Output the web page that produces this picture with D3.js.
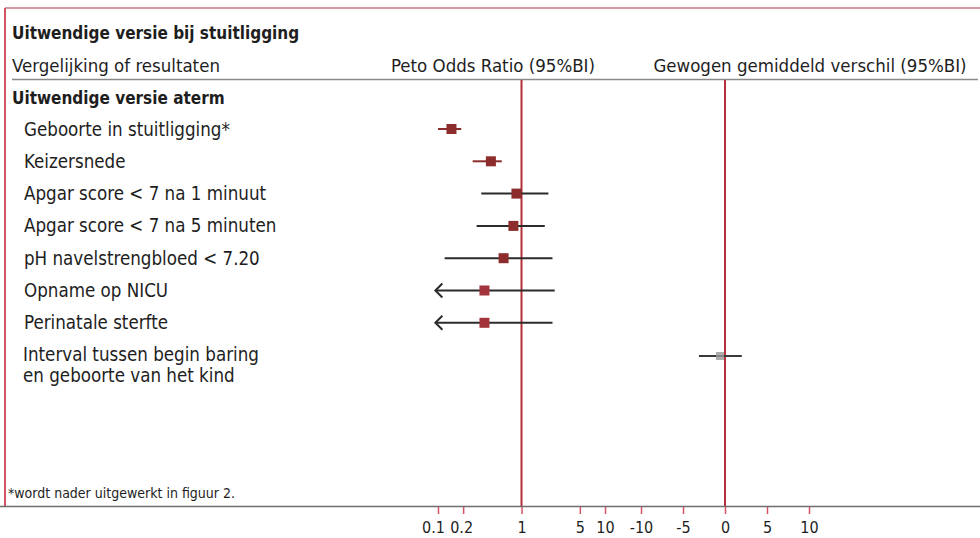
<!DOCTYPE html>
<html>
<head>
<meta charset="utf-8">
<script src="https://cdn.jsdelivr.net/npm/d3@7"></script>
<style>
  body { margin: 0; background: #fff; }
  svg text { font-family: "Liberation Sans Narrow", "DejaVu Sans Condensed", sans-serif; fill: #1e1e1e; }
</style>
</head>
<body>
<div id="chart"></div>
<script>
// -- DATA -- //
const outcomes = new Array(
    "Geboorte in stuitligging*",
    "Keizersnede",
    "Apgar score < 7 na 1 minuut",
    "Apgar score < 7 na 5 minuten",
    "pH navelstrengbloed < 7.20",
    "Opname op NICU",
    "Perinatale sterfte"
);
// peto odds ratio with 95% BI (lower below 0.1 is drawn as an arrow)
const orEstimate = [0.145, 0.43, 0.87, 0.80, 0.61, 0.36, 0.36];
const orLower = [0.10, 0.26, 0.33, 0.29, 0.12, 0.02, 0.02];
const orUpper = [0.19, 0.58, 2.1, 1.9, 2.35, 2.5, 2.35];

// weighted mean difference row
const wmdOutcome = ["Interval tussen begin baring", "en geboorte van het kind"];
const wmdEstimate = [-0.6];
const wmdLower = [-3.1];
const wmdUpper = [2.0];

const orTicks = [0.1, 0.2, 1, 5, 10];
const orTickLabels = ["0.1", "0.2", "1", "5", "10"];
const wmdTicks = [-10, -5, 0, 5, 10];

var width = 980;
var height = 538;

var svg = d3.select("#chart")
    .append("svg")
    .attr("width", width)
    .attr("height", height);

// -- SCALES -- //
var xOr = d3.scaleLog().domain([0.1, 10]).range([438, 605]);
var xWmd = d3.scaleLinear().domain([-10, 10]).range([641, 809]);
var orMin = 0.093; // arrows stop here

var rowTop = 129;
var rowStep = 32.3;
var y = (i) => rowTop + i * rowStep;

var darkRed = "#8c2c2c";
var lineRed = "#b3303b";
var frameRed = "#d35464";

// -- FRAME -- //
svg.append("line")
    .attr("x1", 5).attr("x2", 980).attr("y1", 8).attr("y2", 8)
    .attr("stroke", "#c77a86").attr("stroke-width", 1.5);
svg.append("line")
    .attr("x1", 5).attr("x2", 5).attr("y1", 8).attr("y2", 506)
    .attr("stroke", frameRed).attr("stroke-width", 2);
svg.append("line")
    .attr("x1", 12).attr("x2", 978).attr("y1", 79.5).attr("y2", 79.5)
    .attr("stroke", "#8a8a8a").attr("stroke-width", 1.5);

// reference lines
svg.append("line")
    .attr("x1", xOr(1)).attr("x2", xOr(1)).attr("y1", 80).attr("y2", 506)
    .attr("stroke", lineRed).attr("stroke-width", 2);
svg.append("line")
    .attr("x1", xWmd(0)).attr("x2", xWmd(0)).attr("y1", 80).attr("y2", 506)
    .attr("stroke", lineRed).attr("stroke-width", 2);

// -- HEADINGS -- //
svg.append("text")
    .attr("x", 12).attr("y", 39)
    .style("font-size", "17px").style("font-weight", "bold")
    .text("Uitwendige versie bij stuitligging");
svg.append("text")
    .attr("x", 12).attr("y", 72)
    .style("font-size", "18.5px")
    .text("Vergelijking of resultaten");
svg.append("text")
    .attr("x", 493).attr("y", 72)
    .attr("text-anchor", "middle")
    .style("font-size", "18.5px")
    .text("Peto Odds Ratio (95%BI)");
svg.append("text")
    .attr("x", 810).attr("y", 72)
    .attr("text-anchor", "middle")
    .style("font-size", "18.5px")
    .text("Gewogen gemiddeld verschil (95%BI)");
svg.append("text")
    .attr("x", 12).attr("y", 104)
    .style("font-size", "17px").style("font-weight", "bold")
    .text("Uitwendige versie aterm");

// -- ROW LABELS -- //
svg.selectAll("text.row")
    .data(outcomes)
    .enter()
    .append("text")
    .attr("class", "row")
    .attr("x", 24)
    .attr("y", (d, i) => y(i) + 6.5)
    .style("font-size", "18.6px")
    .text((d) => d);

svg.selectAll("text.wmdrow")
    .data(wmdOutcome)
    .enter()
    .append("text")
    .attr("class", "wmdrow")
    .attr("x", 23)
    .attr("y", (d, i) => 361 + i * 21)
    .style("font-size", "18.6px")
    .text((d) => d);

// -- PETO OR ROWS -- //
var orRows = svg.selectAll("g.or")
    .data(outcomes)
    .enter()
    .append("g")
    .attr("class", "or");

orRows.append("line")
    .attr("x1", (d, i) => xOr(Math.max(orLower[i], orMin)))
    .attr("x2", (d, i) => xOr(orUpper[i]))
    .attr("y1", (d, i) => y(i))
    .attr("y2", (d, i) => y(i))
    .attr("stroke", (d, i) => i < 2 ? darkRed : "#2b2b2b")
    .attr("stroke-width", 2);

// open arrow heads for truncated intervals
orRows.filter((d, i) => orLower[i] < orMin)
    .append("path")
    .attr("d", (d) => {
        let i = outcomes.indexOf(d);
        let x0 = xOr(orMin), y0 = y(i);
        return "M" + (x0 + 7) + "," + (y0 - 7) + "L" + x0 + "," + y0 + "L" + (x0 + 7) + "," + (y0 + 7);
    })
    .attr("fill", "none")
    .attr("stroke", "#2b2b2b")
    .attr("stroke-width", 2);

orRows.append("rect")
    .attr("x", (d, i) => xOr(orEstimate[i]) - 5)
    .attr("y", (d, i) => y(i) - 5)
    .attr("width", 10)
    .attr("height", 10)
    .attr("fill", (d, i) => i < 5 ? darkRed : "#a3343c");

// -- WMD ROW -- //
svg.selectAll("g.wmd")
    .data(wmdEstimate)
    .enter()
    .append("g")
    .attr("class", "wmd")
    .each(function (d, i) {
        let g = d3.select(this);
        g.append("line")
            .attr("x1", xWmd(wmdLower[i]))
            .attr("x2", xWmd(wmdUpper[i]))
            .attr("y1", 356).attr("y2", 356)
            .attr("stroke", "#3a3a3a")
            .attr("stroke-width", 2);
        g.append("rect")
            .attr("x", xWmd(d) - 4).attr("y", 352)
            .attr("width", 8).attr("height", 8)
            .attr("fill", "#9a9a9a")
            .attr("opacity", 0.8);
    });

// -- AXES -- //
svg.append("line")
    .attr("x1", 0).attr("x2", 980).attr("y1", 506.5).attr("y2", 506.5)
    .attr("stroke", "#6e6e6e").attr("stroke-width", 1.5);

var orAxis = d3.axisBottom(xOr)
    .tickValues(orTicks)
    .tickFormat((d, i) => orTickLabels[i])
    .tickSize(7)
    .tickPadding(8);
var wmdAxis = d3.axisBottom(xWmd)
    .tickValues(wmdTicks)
    .tickFormat((d) => String(d))
    .tickSize(7)
    .tickPadding(8);

var gOr = svg.append("g").attr("transform", "translate(0,507)").call(orAxis);
var gWmd = svg.append("g").attr("transform", "translate(0,507)").call(wmdAxis);

[gOr, gWmd].forEach((g) => {
    g.select(".domain").remove();
    g.selectAll(".tick line").attr("stroke", frameRed).attr("stroke-width", 1.5);
    g.selectAll(".tick text")
        .style("font-size", "16px")
        .style("font-family", "\"Liberation Sans Narrow\", \"DejaVu Sans Condensed\", sans-serif");
});
// nudge the two low labels apart like the print
gOr.selectAll(".tick text").attr("fill", "#1e1e1e")
    .attr("dx", (d) => d === 0.1 ? -5 : d === 0.2 ? -2 : 0);
gWmd.selectAll(".tick text").attr("fill", "#8a2a36");

// -- FOOTNOTE -- //
svg.append("text")
    .attr("x", 8).attr("y", 498)
    .style("font-size", "14px")
    .text("*wordt nader uitgewerkt in figuur 2.");
</script>
</body>
</html>
